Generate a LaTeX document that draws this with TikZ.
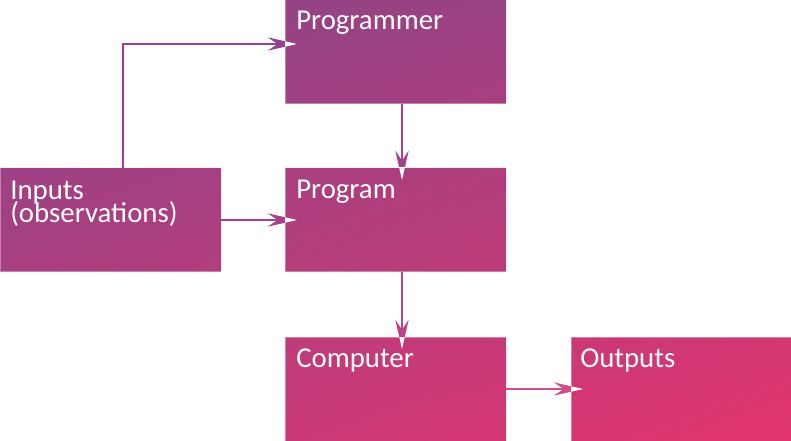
\documentclass[tikz,border=0pt]{standalone}
\usepackage{fontspec}
\setmainfont{Carlito}
\usetikzlibrary{arrows.meta,calc,shadings}
\pgfdeclarelayer{background}
\pgfsetlayers{background,main}
\definecolor{gTL}{HTML}{8A4589}
\definecolor{gTR}{HTML}{A4407F}
\definecolor{gBL}{HTML}{BC3C7B}
\definecolor{gBR}{HTML}{E2346E}
\definecolor{aA}{HTML}{9A3F8C}
\definecolor{aB}{HTML}{A3418A}
\definecolor{aC}{HTML}{A8408A}
\definecolor{aD}{HTML}{BE4488}
\definecolor{aE}{HTML}{D24E8A}
\begin{document}
\begin{tikzpicture}[x=0.75pt,y=-0.75pt,
  box/.style={rectangle,draw=white,draw opacity=0.35,line width=0.75pt,minimum width=165.75pt,minimum height=78pt,inner sep=0pt,outer sep=0pt,anchor=north west},
  lbl/.style={text=white,font=\fontsize{21.6}{17.25}\selectfont,anchor=base west,inner sep=0pt,align=left},
  tipstyle/.style={-{Stealth[length=22pt,width=10pt,inset=7.5pt]}},
  arr/.style={line width=1.1pt,tipstyle,shorten >=-9pt}]
\useasboundingbox (0,0) rectangle (791,441);
\node[box] (programmer) at (285,0) {};
\node[box] (inputs) at (0,168) {};
\node[box] (program) at (285,168) {};
\node[box] (computer) at (285,337) {};
\node[box] (outputs) at (571,337) {};
\begin{pgfonlayer}{background}
\begin{scope}
\clip (programmer.north west) rectangle (programmer.south east)
      (inputs.north west) rectangle (inputs.south east)
      (program.north west) rectangle (program.south east)
      (computer.north west) rectangle (computer.south east)
      (outputs.north west) rectangle (outputs.south east);
\shade[upper left=gTL,upper right=gTR,lower left=gBL,lower right=gBR] (0,0) rectangle (791,441);
\end{scope}
\end{pgfonlayer}
\node[lbl] (tprogrammer) at (296,30) {Programmer};
\node[lbl] (tinputs) at (10,223) {Inputs\\[-2.5pt](observations)};
\node[lbl] (tprogram) at (296,199) {Program};
\node[lbl] (tcomputer) at (296,367) {Computer};
\node[lbl] (toutputs) at (580,367) {Outputs};
\draw[arr,aA] ($(inputs.north)+(12.5,0)$) |- ($(programmer.west)+(0,-8)$);
\draw[arr,aB] ($(programmer.south)+(6.5,0)$) -- ($(program.north)+(6.5,0)$);
\draw[arr,aC] (inputs.east) -- (program.west);
\draw[arr,aD] ($(program.south)+(6.5,0)$) -- ($(computer.north)+(6.5,0)$);
\draw[arr,aE] (computer.east) -- (outputs.west);
\begin{scope}
\clip (programmer.north west) rectangle (programmer.south east);
\draw[arr,white] ($(inputs.north)+(12.5,0)$) |- ($(programmer.west)+(0,-8)$);
\end{scope}
\begin{scope}
\clip (program.north west) rectangle (program.south east);
\draw[arr,white] ($(programmer.south)+(6.5,0)$) -- ($(program.north)+(6.5,0)$);
\draw[arr,white] (inputs.east) -- (program.west);
\end{scope}
\begin{scope}
\clip (computer.north west) rectangle (computer.south east);
\draw[arr,white] ($(program.south)+(6.5,0)$) -- ($(computer.north)+(6.5,0)$);
\end{scope}
\begin{scope}
\clip (outputs.north west) rectangle (outputs.south east);
\draw[arr,white] (computer.east) -- (outputs.west);
\end{scope}
\end{tikzpicture}
\end{document}
